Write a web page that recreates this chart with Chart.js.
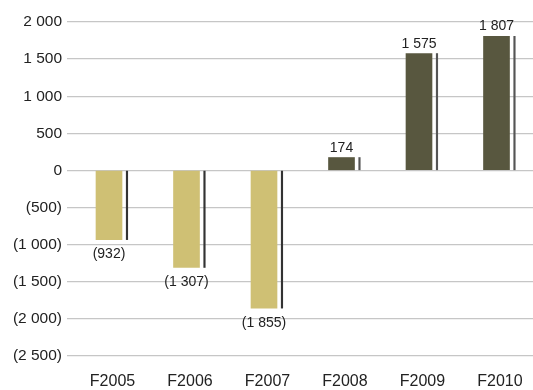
<!DOCTYPE html>
<html><head><meta charset="utf-8">
<script src="https://cdn.jsdelivr.net/npm/chart.js@4/dist/chart.umd.min.js"></script>
<style>html,body{margin:0;padding:0;background:#fff}#wrap{width:533px;height:390px}</style>
</head><body><div id="wrap"><canvas id="c"></canvas></div>
<script>
const categories = ['F2005','F2006','F2007','F2008','F2009','F2010'];
const values = [-932, -1307, -1855, 174, 1575, 1807];
const yTicks = [2000,1500,1000,500,0,-500,-1000,-1500,-2000,-2500];

const NEG = '#cfc074', POS = '#58573f';
const fmt = v => { const s = Math.abs(v).toString().replace(/\B(?=(\d{3})+(?!\d))/g, ' '); return v < 0 ? '(' + s + ')' : s; };
const FONT = "'Liberation Sans', Arial, sans-serif";

const xMin = -0.587, xMax = 5.426, barShift = -0.045, lineShift = 0.187;
const pts = values.map((v,i)=>({x:i, y:v}));

const labelPlugin = {
  id:'vals',
  afterDatasetsDraw(chart){
    const ctx = chart.ctx, meta = chart.getDatasetMeta(0);
    ctx.save(); ctx.font = '14px ' + FONT; ctx.fillStyle = '#222'; ctx.textAlign = 'center';
    meta.data.forEach((el,i)=>{
      const v = values[i];
      if (v >= 0) { ctx.textBaseline = 'alphabetic'; ctx.fillText(fmt(v), el.x, el.y - 6); }
      else { ctx.textBaseline = 'top'; ctx.fillText(fmt(v), el.x, el.y + 8); }
    });
    ctx.restore();
  }
};

new Chart(document.getElementById('c'), {
  type:'bar',
  data:{ datasets:[
    { data: pts, xAxisID:'xb', grouped:false, barThickness:26,
      backgroundColor: values.map(v=> v<0?NEG:POS), borderWidth:0 },
    { data: pts, xAxisID:'xl', grouped:false, barThickness:1.5,
      backgroundColor: values.map(v=> v<0?'#333':'#555'), borderWidth:0 }
  ]},
  options:{
    responsive:true, maintainAspectRatio:false, animation:false,
    layout:{ padding:{ top:22, right:0, left:0, bottom:0 } },
    plugins:{ legend:{display:false}, tooltip:{enabled:false} },
    scales:{
      x:{ type:'linear', min:xMin, max:xMax, offset:false, position:'bottom',
          grid:{display:false, drawTicks:false}, border:{display:false},
          afterBuildTicks: s => { s.ticks = categories.map((_,i)=>({value:i})); },
          afterFit: s => { s.height = 34; s.paddingLeft = 0; s.paddingRight = 0; },
          ticks:{ padding:16, color:'#222', font:{family:FONT, size:16}, maxRotation:0, autoSkip:false,
                  callback: (v) => categories[v] } },
      xb:{ type:'linear', display:false, offset:false, min:xMin - barShift, max:xMax - barShift },
      xl:{ type:'linear', display:false, offset:false, min:xMin - lineShift, max:xMax - lineShift },
      y:{ min:-2500, max:2000,
          afterBuildTicks: s => { s.ticks = yTicks.map(v=>({value:v})); },
          afterFit: s => { s.width = 67; s.paddingTop = 0; s.paddingBottom = 0; },
          grid:{ color:'#c6c6c6', lineWidth:1.3, drawTicks:false }, border:{display:false},
          ticks:{ padding:5, color:'#222', font:{family:FONT, size:15.5}, callback: v => fmt(v) } }
    }
  },
  plugins:[labelPlugin]
});
</script></body></html>
